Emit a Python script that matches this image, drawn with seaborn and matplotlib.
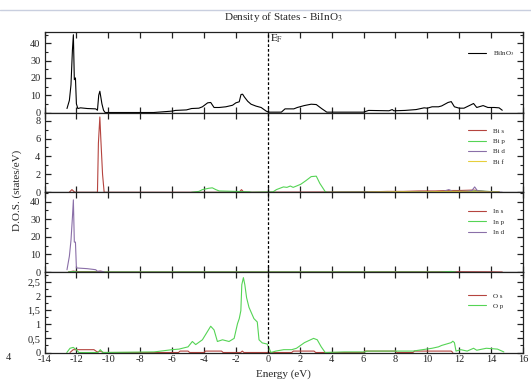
import matplotlib
matplotlib.use("Agg")
import matplotlib.pyplot as plt
from matplotlib.ticker import MultipleLocator, FixedLocator, FuncFormatter
from matplotlib.lines import Line2D
import pandas as pd
import seaborn as sns

# ---- Total density of states (states/eV) ----
tot_e = [-12.59, -12.44, -12.34, -12.25, -12.19, -12.13, -12.06, -12.0, -11.91, -11.74,
         -11.32, -10.79, -10.68, -10.6, -10.53, -10.47, -10.4, -10.3, -10.2, -7.15,
         -6.0, -5.8, -5.1, -4.78, -4.32, -4.1, -3.77, -3.58, -3.37, -3.05,
         -2.63, -2.21, -2.0, -1.79, -1.68, -1.58, -1.47, -1.26, -1.05, -0.74,
         -0.42, -0.1, 0.0, 0.1, 0.85, 1.08, 1.63, 1.85, 2.28, 2.72,
         3.04, 3.37, 3.7, 6.0, 6.32, 7.6, 7.8, 7.9, 8.6, 9.3,
         9.8, 10.0, 10.3, 10.7, 10.9, 11.3, 11.5, 11.7, 12.0, 12.3,
         12.9, 13.1, 13.5, 13.8, 14.2, 14.5, 14.7]
tot_v = [2.3, 7, 16, 36, 45, 19, 20, 5, 2.3, 2.7,
         2.3, 2.1, 1.3, 10, 12.3, 9, 5, 1.3, 0, 0,
         0.8, 1.2, 1.5, 2.3, 2.5, 3.3, 5.6, 5.8, 2.9, 2.9,
         3.3, 4.2, 5.6, 6.2, 10.4, 10.6, 9, 6.5, 4.8, 3.7,
         2.9, 0.8, 0.4, 0.2, 0.2, 2.1, 2.1, 2.9, 4.0, 4.8,
         4.6, 2.3, 0.2, 0.2, 1.2, 1.0, 1.7, 1.0, 1.2, 1.7,
         2.7, 2.5, 3.3, 3.3, 3.8, 5.8, 6.3, 3.3, 2.5, 2.5,
         5.2, 2.9, 4.0, 2.9, 2.9, 2.7, 1.3]

# ---- Bi projected DOS ----
bis_e = [-12.45, -12.28, -12.1, -10.68, -10.62, -10.53, -10.47, -10.36, -10.26, -1.8,
         -1.65, -1.5, 6.3, 7.5, 8.5, 9.5, 10.5, 11.2, 12.0, 12.9, 13.6, 14.5]
bis_v = [0, 0.3, 0, 0, 5.5, 8.4, 6.0, 2.0, 0, 0,
         0.3, 0, 0.05, 0.1, 0.1, 0.15, 0.15, 0.2, 0.2, 0.25, 0.1, 0.05]
bip_e = [-4.78, -4.32, -4.1, -3.7, -3.48, -3.26, -3.05, -2.0, -1.16, -1.0,
         0.33, 0.54, 0.98, 1.2, 1.41, 1.59, 1.8, 2.07, 2.39, 2.72,
         3.04, 3.26, 3.59, 3.7, 9.0, 10.0, 11.0, 11.8, 12.5, 13.2, 13.8, 14.5]
bip_v = [0, 0.1, 0.3, 0.45, 0.5, 0.3, 0.15, 0.1, 0.05, 0,
         0.05, 0.3, 0.6, 0.55, 0.7, 0.55, 0.7, 0.9, 1.3, 1.75,
         1.8, 1.0, 0.1, 0, 0.02, 0.05, 0.05, 0.1, 0.1, 0.15, 0.1, 0.02]
bid_e = [6.3, 8.0, 10.0, 11.0, 11.35, 11.6, 12.5, 12.8, 12.97, 13.15, 14.0, 14.7]
bid_v = [0.02, 0.05, 0.05, 0.1, 0.3, 0.1, 0.1, 0.2, 0.6, 0.15, 0.05, 0]
bif_e = [6.3, 7.5, 8.5, 9.5, 10.5, 11.5, 12.5, 13.5, 14.5]
bif_v = [0.02, 0.05, 0.08, 0.05, 0.08, 0.1, 0.05, 0.05, 0.02]

# ---- In projected DOS ----
ins_e = [-12.5, -12.2, -11.9, -10.7, -10.5, -10.3, 6.0, 8.0, 10.0, 12.0, 14.0, 14.7]
ins_v = [0, 0.5, 0.2, 0.2, 0.5, 0, 0.05, 0.1, 0.1, 0.15, 0.1, 0]
inp_e = [-12.5, -12.2, -11.9, 10.8, 11.2, 11.5, 11.8]
inp_v = [0, 0.3, 0, 0, 0.2, 0.3, 0]
ind_e = [-12.59, -12.44, -12.34, -12.25, -12.19, -12.13, -12.06, -12.0, -11.32, -10.79,
         -10.68, -10.4, -10.26]
ind_v = [1.3, 9, 18, 31, 41, 17, 17, 2.3, 1.9, 1.3,
         0.4, 0.4, 0]

# ---- O projected DOS ----
os_e = [-12.4, -12.2, -10.9, -10.7, -10.5, -10.3, -5.6, -5.5, -5.0, -4.9,
        -4.0, -3.9, -2.9, -2.8, -1.7, -1.6, -1.5, 1.5, 1.6, 2.9,
        3.0, 6.0, 6.1, 8.0, 8.1, 9.1, 9.2, 11.5, 11.6]
os_v = [0, 0.1, 0.1, 0.02, 0.05, 0, 0, 0.05, 0.05, 0,
        0, 0.05, 0.05, 0, 0, 0.05, 0, 0, 0.05, 0.05,
        0, 0, 0.05, 0.05, 0, 0, 0.05, 0.05, 0]
op_e = [-12.6, -12.4, -12.2, -12.0, -11.85, -10.65, -10.5, -10.35, -7.13, -6.0,
        -5.57, -5.0, -4.73, -4.52, -4.1, -3.58, -3.37, -3.16, -2.84, -2.43,
        -2.11, -1.9, -1.79, -1.69, -1.63, -1.53, -1.44, -1.33, -1.18, -0.87,
        -0.66, -0.55, -0.35, -0.04, 0.2, 0.5, 1.0, 1.5, 1.8, 2.3,
        2.87, 3.1, 3.35, 3.6, 4.8, 6.1, 6.2, 8.0, 9.1, 9.7,
        10.3, 10.7, 10.9, 11.2, 11.5, 11.6, 11.7, 11.8, 12.1, 12.5,
        12.9, 13.1, 13.7, 14.4, 14.8]
op_v = [0, 0.15, 0.18, 0.1, 0, 0, 0.1, 0, 0.02, 0.1,
        0.12, 0.2, 0.39, 0.28, 0.45, 0.93, 0.8, 0.39, 0.45, 0.39,
        0.5, 1.02, 1.2, 1.48, 2.4, 2.65, 2.4, 1.94, 1.6, 1.2,
        1.08, 0.45, 0.34, 0.3, 0.0, 0.05, 0.1, 0.1, 0.15, 0.35,
        0.5, 0.45, 0.2, 0.0, 0.02, 0.02, 0.05, 0.05, 0.05, 0.1,
        0.15, 0.2, 0.25, 0.3, 0.35, 0.4, 0.35, 0.05, 0.1, 0.05,
        0.15, 0.08, 0.15, 0.12, 0.02]

energy_ticks = list(range(-14, 17, 2))

RED, GREEN, VIOLET, YELLOW = "#b5443f", "#55d455", "#8a6fa8", "#e6cf3c"

panels = [
    dict(series=[("BiInO$_3$", tot_e, tot_v, "black")], ymax=46.4, major=10, minor=5),
    dict(series=[("Bi s", bis_e, bis_v, RED), ("Bi p", bip_e, bip_v, GREEN),
                 ("Bi d", bid_e, bid_v, VIOLET), ("Bi f", bif_e, bif_v, YELLOW)],
         ymax=8.9, major=2, minor=1),
    dict(series=[("In s", ins_e, ins_v, RED), ("In p", inp_e, inp_v, GREEN),
                 ("In d", ind_e, ind_v, VIOLET)], ymax=45.3, major=10, minor=5),
    dict(series=[("O s", os_e, os_v, RED), ("O p", op_e, op_v, GREEN)],
         ymax=2.85, major=0.5, minor=0.25),
]

sns.set_theme(style="ticks")
plt.rcParams.update({
    "font.family": ["Liberation Serif", "DejaVu Serif"],
    "mathtext.fontset": "stix",
    "axes.unicode_minus": False,
    "axes.edgecolor": "#222222",
    "axes.linewidth": 0.9,
    "xtick.direction": "in", "ytick.direction": "in",
    "xtick.top": True, "ytick.right": True,
    "xtick.major.size": 4.5, "ytick.major.size": 4.5,
    "ytick.minor.size": 2.3,
    "xtick.major.width": 0.9, "ytick.major.width": 0.9, "ytick.minor.width": 0.8,
    "xtick.color": "#222222", "ytick.color": "#222222",
    "xtick.labelsize": 7.5, "ytick.labelsize": 7.5,
})

W, H = 531, 380
fig = plt.figure(figsize=(W / 100, H / 100), dpi=100)
fig.patch.set_facecolor("white")

x0, x1 = 44.5, 523
edges = [32.3, 112.5, 192.3, 272.0, 352.5]

# thin rule at the very top of the page
fig.add_artist(Line2D([0, 1], [1 - 10 / H, 1 - 10 / H], transform=fig.transFigure,
                      color="#c9cfdf", lw=1.0))

legend_tops = [0.79, 0.807, 0.795, 0.743]

axes = []
for i, p in enumerate(panels):
    top, bot = edges[i], edges[i + 1]
    ax = fig.add_axes([x0 / W, 1 - bot / H, (x1 - x0) / W, (bot - top) / H])
    axes.append(ax)
    frames = []
    for name, e, v, c in p["series"]:
        frames.append(pd.DataFrame({"energy": e, "dos": v, "orbital": name}))
    df = pd.concat(frames, ignore_index=True)
    pal = {name: c for name, _, _, c in p["series"]}
    sns.lineplot(data=df, x="energy", y="dos", hue="orbital", palette=pal,
                 estimator=None, sort=False, lw=0.8, ax=ax)
    ax.axvline(0, color="black", lw=0.9, ls=(0, (2.2, 1.6)))
    ax.set_xlim(-14, 16)
    ax.set_ylim(0, p["ymax"])
    ax.xaxis.set_major_locator(FixedLocator(energy_ticks))
    ax.yaxis.set_major_locator(MultipleLocator(p["major"]))
    ax.yaxis.set_minor_locator(MultipleLocator(p["minor"]))
    ax.tick_params(axis="y", which="both", left=True, right=True, pad=3)
    ax.tick_params(axis="x", which="both", top=True, bottom=True, pad=2)
    ax.set_xlabel("")
    ax.set_ylabel("")
    ax.set_facecolor("white")
    if i < 3:
        ax.tick_params(axis="x", labelbottom=False)
    handles, labels = ax.get_legend_handles_labels()
    ax.legend(handles, labels, loc="upper left", bbox_to_anchor=(0.885, legend_tops[i]),
              frameon=False, fontsize=5, handlelength=2.6, handletextpad=1.0,
              labelspacing=0.64, borderpad=0, borderaxespad=0)

axes[3].yaxis.set_major_formatter(
    FuncFormatter(lambda y, _: ("%g" % y).replace(".", ",")))
axes[3].xaxis.set_major_formatter(FuncFormatter(lambda x, _: "%d" % x))

axes[0].text(0.12, axes[0].get_ylim()[1] * 0.995, r"$\mathrm{E}_{\mathrm{F}}$",
             fontsize=8, va="top", ha="left")

fig.text((x0 + x1) / 2 / W, 1 - 17 / H, "Density of States - BiInO$_3$",
         ha="center", va="center", fontsize=8)
fig.text((x0 + x1) / 2 / W, 1 - 374 / H, "Energy (eV)", ha="center", va="center",
         fontsize=8)
fig.text(17 / W, 1 - 190 / H, "D.O.S. (states/eV)", rotation=90, ha="center",
         va="center", fontsize=8)
fig.text(8 / W, 1 - 357 / H, "4", ha="center", va="center", fontsize=7.5)

fig.savefig("out.png", dpi=100, facecolor="white")
